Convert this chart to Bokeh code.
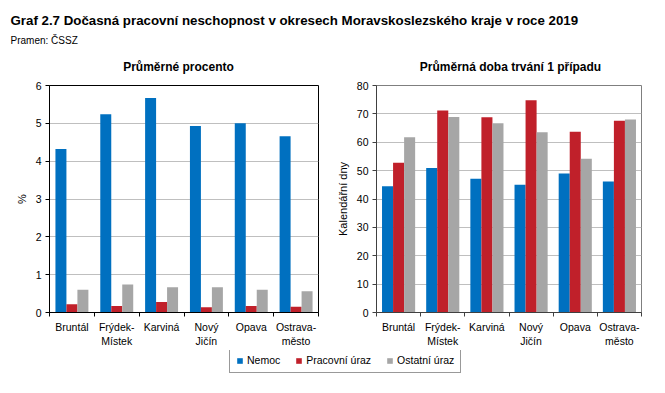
from bokeh.plotting import figure
from bokeh.models import Range1d, FixedTicker, Label, Legend, LegendItem, ColumnDataSource
from bokeh.transform import dodge
from bokeh.layouts import column, row
from bokeh.embed import file_html
from bokeh.resources import INLINE

# ---- data ----
districts = ["Bruntál", "Frýdek-\nMístek", "Karviná", "Nový\nJičín", "Opava", "Ostrava-\nměsto"]
series = ["Nemoc", "Pracovní úraz", "Ostatní úraz"]
colors = ["#0070C0", "#C0202A", "#A6A6A6"]

pct_nemoc = [4.32, 5.24, 5.67, 4.93, 5.00, 4.66]
pct_pracovni = [0.22, 0.17, 0.28, 0.14, 0.17, 0.15]
pct_ostatni = [0.60, 0.74, 0.67, 0.67, 0.60, 0.56]

dny_nemoc = [44.5, 50.9, 47.1, 45.0, 49.0, 46.2]
dny_pracovni = [52.8, 71.2, 68.8, 74.8, 63.7, 67.6]
dny_ostatni = [61.8, 68.9, 66.7, 63.5, 54.2, 68.0]

pct_ticks = [0, 1, 2, 3, 4, 5, 6]
dny_ticks = [0, 10, 20, 30, 40, 50, 60, 70, 80]

title_main = "Graf 2.7 Dočasná pracovní neschopnost v okresech Moravskoslezského kraje v roce 2019"
subtitle = "Pramen: ČSSZ"
title_left = "Průměrné procento"
title_right = "Průměrná doba trvání 1 případu"
ylabel_left = "%"
ylabel_right = "Kalendářní dny"

FONT = "Liberation Sans"


def make_chart(width, height, mb_left, mb_right, mb_top, mb_bottom,
               vals, yticks, ylabel, bar_w, outline_color, axis_color):
    n = len(districts)
    p = figure(width=width, height=height, x_range=Range1d(0, n),
               y_range=Range1d(yticks[0], yticks[-1]), title=None,
               output_backend="svg", toolbar_location=None,
               min_border_left=mb_left, min_border_right=mb_right,
               min_border_top=mb_top, min_border_bottom=mb_bottom)
    centers = [i + 0.5 for i in range(n)]
    data = {"xc": centers}
    for j, v in enumerate(vals):
        data["s%d" % j] = v
    src = ColumnDataSource(data)
    for j in range(len(vals)):
        p.vbar(x=dodge("xc", (j - 1) * bar_w, range=p.x_range), top="s%d" % j, bottom=0,
               width=bar_w, source=src, fill_color=colors[j], line_color=None)

    p.xgrid.grid_line_color = None
    p.ygrid.grid_line_color = "#BFBFBF"
    p.ygrid.grid_line_width = 1
    p.outline_line_color = outline_color
    p.outline_line_width = 1

    xa = p.xaxis[0]
    xa.ticker = FixedTicker(ticks=centers, minor_ticks=list(range(n + 1)))
    xa.major_label_overrides = {c: d for c, d in zip(centers, districts)}
    xa.major_tick_line_color = None
    xa.major_tick_out = 0
    xa.major_tick_in = 0
    xa.minor_tick_line_color = axis_color
    xa.minor_tick_out = 4
    xa.minor_tick_in = 0
    xa.major_label_standoff = 4

    ya = p.yaxis[0]
    ya.ticker = FixedTicker(ticks=yticks)
    ya.major_tick_out = 4
    ya.major_tick_in = 0
    ya.major_tick_line_color = axis_color
    ya.major_label_standoff = 4
    ya.axis_label = ylabel
    ya.axis_label_text_font = FONT
    ya.axis_label_text_font_size = "11px"
    ya.axis_label_text_font_style = "normal"
    ya.axis_label_text_color = "#000000"
    ya.axis_label_standoff = 5

    for ax in (xa, ya):
        ax.axis_line_color = axis_color
        ax.major_label_text_font = FONT
        ax.major_label_text_font_size = "10.5px"
        ax.major_label_text_color = "#000000"
    return p, src


p1, src1 = make_chart(333, 272, 49, 15, 7, 38,
                      [pct_nemoc, pct_pracovni, pct_ostatni], pct_ticks, ylabel_left,
                      0.245, "#000000", "#000000")
p2, src2 = make_chart(332, 272, 37, 24, 6, 37,
                      [dny_nemoc, dny_pracovni, dny_ostatni], dny_ticks, ylabel_right,
                      0.25, "#7F7F7F", "#404040")

# header with main title, source and the two panel titles
header = figure(width=665, height=78, x_range=Range1d(0, 1), y_range=Range1d(0, 1),
                output_backend="svg", toolbar_location=None, min_border=0, title=None,
                x_axis_type=None, y_axis_type=None, outline_line_color=None)
header.add_layout(Label(x=10, y=58, x_units="screen", y_units="screen", text=title_main,
                        text_font=FONT, text_font_style="bold", text_font_size="13.3px",
                        text_baseline="middle", text_color="#000000"))
header.add_layout(Label(x=10, y=38, x_units="screen", y_units="screen", text=subtitle,
                        text_font=FONT, text_font_size="10px",
                        text_baseline="middle", text_color="#000000"))
header.add_layout(Label(x=178, y=12, x_units="screen", y_units="screen", text=title_left,
                        text_font=FONT, text_font_style="bold", text_font_size="12px",
                        text_align="center", text_baseline="middle", text_color="#000000"))
header.add_layout(Label(x=510, y=12, x_units="screen", y_units="screen", text=title_right,
                        text_font=FONT, text_font_style="bold", text_font_size="12px",
                        text_align="center", text_baseline="middle", text_color="#000000"))

# legend strip: hidden proxy renderers reuse the left chart's data
p3 = figure(width=665, height=43, x_range=Range1d(0, 6), y_range=Range1d(0, 6),
            output_backend="svg", toolbar_location=None, min_border=0, title=None,
            x_axis_type=None, y_axis_type=None, outline_line_color=None)
items = []
for j, (s, c) in enumerate(zip(series, colors)):
    r = p3.vbar(x="xc", top="s%d" % j, bottom=0, width=0.2, source=src1,
                fill_color=c, line_color=None, visible=False)
    items.append(LegendItem(label=s, renderers=[r]))
legend = Legend(items=items, orientation="horizontal", location=(229, 20),
                padding=6, spacing=15, label_standoff=4, glyph_width=7, glyph_height=7,
                label_height=12, margin=0, border_line_color="#333333", border_line_width=1,
                label_text_font=FONT, label_text_font_size="10.5px",
                label_text_color="#000000", background_fill_color="#FFFFFF",
                click_policy="none", inactive_fill_alpha=0)
p3.add_layout(legend)

layout = column(header, row(p1, p2), p3)

with open("out.html", "w") as f:
    f.write(file_html(layout, INLINE))
